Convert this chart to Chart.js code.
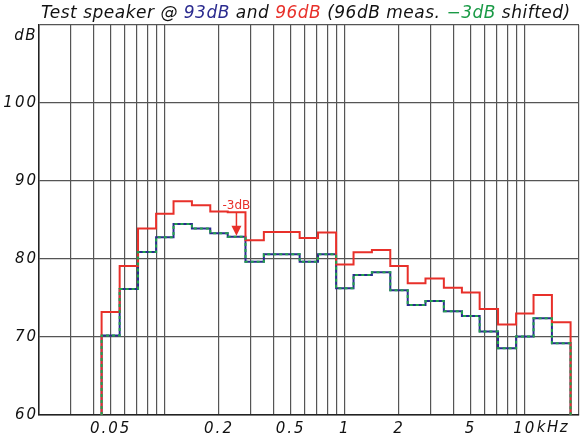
<!DOCTYPE html>
<html><head><meta charset="utf-8">
<script src="https://cdn.jsdelivr.net/npm/chart.js@4"></script>
<style>html,body{margin:0;padding:0;background:#fff;} canvas{display:block;}</style>
</head><body>
<canvas id="c" width="580" height="435"></canvas>
<script>
// 1/3-octave band centres (kHz)
const bandCentersKHz = [0.05,0.063,0.08,0.1,0.125,0.16,0.2,0.25,0.315,0.4,0.5,0.63,0.8,1,1.25,1.6,2,2.5,3.15,4,5,6.3,8,10,12.5,16];
// 96 dB measurement (red)
const spl96 = [73.2,79.1,83.9,85.8,87.4,86.9,86.1,86.0,82.4,83.45,83.45,82.7,83.4,79.3,80.85,81.15,79.1,76.9,77.5,76.3,75.7,73.6,71.6,73.0,75.4,71.9];
// 93 dB measurement (blue)
const spl93 = [70.2,76.15,80.9,82.8,84.5,83.9,83.3,82.85,79.65,80.6,80.6,79.65,80.6,76.25,77.95,78.3,76.0,74.1,74.6,73.3,72.7,70.7,68.55,70.05,72.4,69.2];
const spl96shifted = [70.2,76.15,80.9,82.8,84.5,83.9,83.3,82.85,79.65,80.6,80.6,79.65,80.6,76.25,77.95,78.3,76.0,74.1,74.6,73.3,72.7,70.7,68.55,70.05,72.4,69.2];

const xGridKHz = [0.02,0.03,0.04,0.05,0.06,0.07,0.08,0.09,0.1,0.2,0.3,0.4,0.5,0.6,0.7,0.8,0.9,1,2,3,4,5,6,7,8,9,10,20];
const xLabelValues = [0.05,0.2,0.5,1,2,5,10];
const xLabelTexts = ['0.05','0.2','0.5','1','2','5','10'];
const yTicks = [60,70,80,90,100,110];
const yLabelTexts = ['60','70','80','90','100',''];
const yUnit = 'dB';
const xUnit = 'kHz';
const floorDB = 60;
const annotationBandKHz = 0.25;
const annotationText = '-3dB';

const titleParts = [
  ['Test speaker @ ', '#111'], ['93dB', '#2b2b8f'], [' and ', '#111'], ['96dB', '#e8302a'],
  [' (96dB meas. ', '#111'], ['\u22123dB', '#1a9a46'], [' shifted)', '#111']
];

function bandEdges(c) {
  const e = [c[0] * Math.pow(2, -1/6)];
  for (let i = 0; i < c.length - 1; i++) e.push(Math.sqrt(c[i] * c[i+1]));
  e.push(c[c.length-1] * Math.pow(2, 1/6));
  return e;
}
const edges = bandEdges(bandCentersKHz);
function stepPoints(vals) {
  const pts = [{x: edges[0], y: floorDB}];
  vals.forEach((v, i) => { pts.push({x: edges[i], y: v}); pts.push({x: edges[i+1], y: v}); });
  pts.push({x: edges[edges.length-1], y: floorDB});
  return pts;
}

const FONT = '"DejaVu Sans", sans-serif';

const decor = {
  id: 'decor',
  beforeDraw(chart) { chart.ctx.letterSpacing = '2px'; },
  afterDraw(chart) {
    const ctx = chart.ctx, xs = chart.scales.x, ys = chart.scales.y;
    ctx.save();
    // title
    ctx.letterSpacing = '0.5px';
    ctx.font = 'italic 17px ' + FONT;
    ctx.textBaseline = 'alphabetic';
    ctx.textAlign = 'left';
    let x = 41;
    titleParts.forEach(([t, col]) => { ctx.fillStyle = col; ctx.fillText(t, x, 18); x += ctx.measureText(t).width; });
    // units
    ctx.letterSpacing = '1.5px';
    ctx.fillStyle = '#111';
    ctx.font = 'italic 15px ' + FONT;
    ctx.textAlign = 'right';
    ctx.textBaseline = 'middle';
    ctx.fillText(yUnit, 37, 36);
    ctx.textAlign = 'left';
    ctx.textBaseline = 'top';
    ctx.fillText(xUnit, xs.getPixelForValue(10) + 12, 421);
    // annotation
    ctx.letterSpacing = '0px';
    const i = bandCentersKHz.indexOf(annotationBandKHz);
    const ax = xs.getPixelForValue(annotationBandKHz);
    const y0 = ys.getPixelForValue(spl96[i]);
    const y1 = ys.getPixelForValue(spl93[i]) - 1;
    ctx.strokeStyle = '#e8302a'; ctx.fillStyle = '#e8302a'; ctx.lineWidth = 1.5;
    ctx.beginPath(); ctx.moveTo(ax, y0); ctx.lineTo(ax, y1 - 9); ctx.stroke();
    ctx.beginPath(); ctx.moveTo(ax - 5, y1 - 10); ctx.lineTo(ax + 5, y1 - 10); ctx.lineTo(ax, y1); ctx.closePath(); ctx.fill();
    ctx.font = '12px ' + FONT;
    ctx.textAlign = 'center'; ctx.textBaseline = 'alphabetic';
    ctx.fillText(annotationText, ax, y0 - 3);
    ctx.restore();
  }
};

new Chart(document.getElementById('c'), {
  type: 'line',
  data: {
    datasets: [
      {data: stepPoints(spl96shifted), borderColor: '#22a34c', borderWidth: 2, borderDash: [3, 3], pointRadius: 0, fill: false},
      {data: stepPoints(spl96), borderColor: '#e8302a', borderWidth: 2, pointRadius: 0, fill: false},
      {data: stepPoints(spl93), borderColor: '#2b2b8f', borderWidth: 2, pointRadius: 0, fill: false}
    ]
  },
  options: {
    responsive: false, animation: false,
    layout: {padding: {top: 25, right: 1, left: 0, bottom: 0}},
    plugins: {legend: {display: false}, tooltip: {enabled: false}, title: {display: false}},
    scales: {
      x: {
        type: 'logarithmic', min: 0.02, max: 20,
        afterBuildTicks: s => { s.ticks = xGridKHz.map(v => ({value: v})); },
        afterFit: s => { s.height = 20; s.paddingLeft = 0; s.paddingRight = 0; },
        grid: {color: '#555', lineWidth: 1.2, drawTicks: false},
        border: {display: true, color: '#222', width: 1.5},
        ticks: {
          autoSkip: false, maxRotation: 0, padding: 5, color: '#111',
          font: {family: FONT, size: 15, style: 'italic'},
          callback: v => { const k = xLabelValues.findIndex(a => Math.abs(a - v) < 1e-9); return k >= 0 ? xLabelTexts[k] : ''; }
        }
      },
      y: {
        min: 60, max: 110,
        afterBuildTicks: s => { s.ticks = yTicks.map(v => ({value: v})); },
        afterFit: s => { s.width = 39; s.paddingTop = 0; s.paddingBottom = 0; },
        grid: {color: '#555', lineWidth: 1.2, drawTicks: false},
        border: {display: true, color: '#222', width: 1.5},
        ticks: {
          padding: 1, color: '#111',
          font: {family: FONT, size: 15, style: 'italic'},
          callback: (v, idx) => yLabelTexts[yTicks.indexOf(v)] ?? ''
        }
      }
    }
  },
  plugins: [decor]
});
</script>
</body></html>
